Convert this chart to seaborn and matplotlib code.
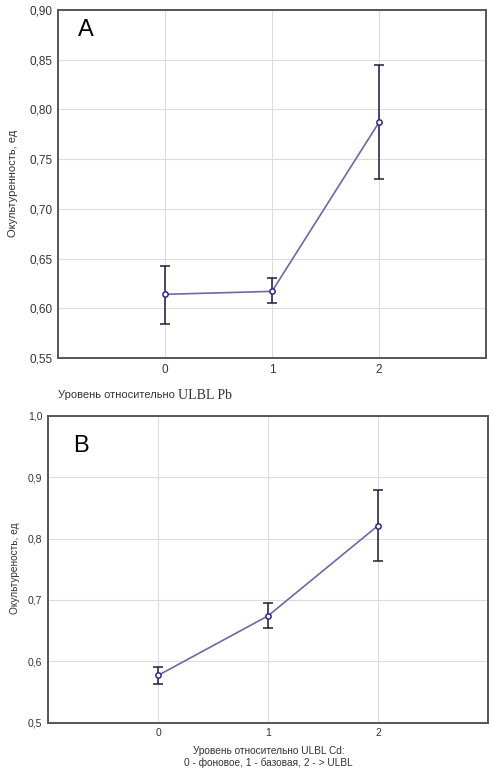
import matplotlib
matplotlib.use("Agg")
import matplotlib.pyplot as plt
import matplotlib.ticker as mticker
import seaborn as sns
import pandas as pd

# ------------------------------
# Data
# ------------------------------
levels = [0, 1, 2]

pb_mean = [0.614, 0.617, 0.787]
pb_low = [0.584, 0.605, 0.730]
pb_high = [0.643, 0.630, 0.845]

cd_mean = [0.577, 0.674, 0.821]
cd_low = [0.563, 0.654, 0.763]
cd_high = [0.590, 0.695, 0.879]

pb_yticks = [0.55, 0.60, 0.65, 0.70, 0.75, 0.80, 0.85, 0.90]
cd_yticks = [0.5, 0.6, 0.7, 0.8, 0.9, 1.0]

ylabel_a = "Окультуренность, ед"
ylabel_b = "Окультуреность, ед"
xlabel_a_1 = "Уровень относительно "
xlabel_a_2 = "ULBL Pb"
xlabel_b = "Уровень относительно ULBL Cd:\n0 - фоновое, 1 - базовая, 2 - > ULBL"

# ------------------------------
# Style
# ------------------------------
sns.set_style("whitegrid")
plt.rcParams["font.family"] = ["Liberation Sans", "DejaVu Sans"]

LINE = "#6a6aa8"
MARK = "#2a2a8a"
ERR = "#1c1c40"
SPINE = "#555555"
GRID = "#dcdcdc"

fig = plt.figure(figsize=(4.93, 7.75), dpi=100)
fig.patch.set_facecolor("white")
ax_a = fig.add_axes([0.1176, 0.5381, 0.8682, 0.4490])
ax_b = fig.add_axes([0.0974, 0.0675, 0.8925, 0.3961])


def draw_panel(ax, mean, low, high, yticks, decimals, fs):
    df = pd.DataFrame({"level": levels, "value": mean})
    yerr = [[m - l for m, l in zip(mean, low)], [h - m for m, h in zip(mean, high)]]
    ax.errorbar(levels, mean, yerr=yerr, fmt="none", ecolor=ERR,
                elinewidth=1.1, capsize=3.8, capthick=1.1, zorder=3)
    sns.lineplot(data=df, x="level", y="value", ax=ax, color=LINE, lw=1.2,
                 marker="o", markersize=3.8, markerfacecolor="white",
                 markeredgecolor=MARK, markeredgewidth=1.1, zorder=4)
    ax.set_xlim(-1, 3)
    ax.set_ylim(yticks[0], yticks[-1])
    ax.set_xticks(levels)
    ax.set_yticks(yticks)
    ax.yaxis.set_major_formatter(mticker.FuncFormatter(
        lambda v, p: f"{v:.{decimals}f}".replace(".", ",")))
    ax.grid(True, color=GRID, lw=0.8)
    ax.tick_params(length=0, labelsize=fs, colors="#333333", pad=4)
    for s in ax.spines.values():
        s.set_color(SPINE)
        s.set_linewidth(1.4)
    ax.set_xlabel("")
    ax.set_ylabel("")


draw_panel(ax_a, pb_mean, pb_low, pb_high, pb_yticks, 2, 8.5)
draw_panel(ax_b, cd_mean, cd_low, cd_high, cd_yticks, 1, 7.5)

# y labels
fig.text(0.026, 0.764, ylabel_a, rotation=90, ha="center", va="center",
         fontsize=8, color="#333333")
fig.text(0.030, 0.267, ylabel_b, rotation=90, ha="center", va="center",
         fontsize=7.3, color="#333333")

# x label of panel A: sans part + serif part
t1 = fig.text(0.117, 0.490, xlabel_a_1, ha="left", va="center",
              fontsize=8, color="#333333")
fig.canvas.draw()
ax_a.annotate(xlabel_a_2, xy=(1, 0.5), xycoords=t1, ha="left", va="center",
              fontsize=10, color="#333333", family="Liberation Serif",
              annotation_clip=False)

# x label of panel B
fig.text(0.545, 0.023, xlabel_b, ha="center", va="center", fontsize=7.3,
         color="#333333", linespacing=1.15)

# panel letters
fig.text(0.158, 0.961, "A", ha="left", va="center", fontsize=17, color="black")
fig.text(0.148, 0.424, "B", ha="left", va="center", fontsize=17, color="black")

fig.savefig("out.png", dpi=100, facecolor="white")
